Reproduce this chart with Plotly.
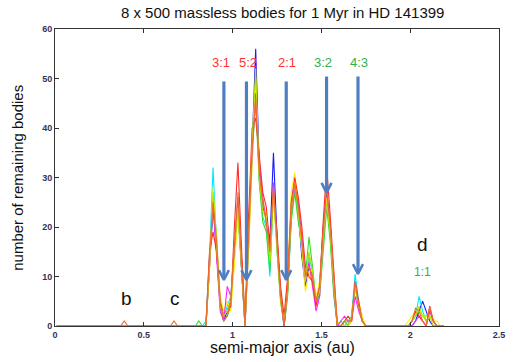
import numpy as np
import plotly.graph_objects as go

# bin centres (au)
x_grid = np.round(np.arange(0.01, 2.20, 0.02), 2)

# main resonance region 0.85 .. 1.77 au
main_start = 0.85
blue_main = [0, 12, 24, 15, 4, 1, 3, 5, 14, 24, 12, 0, 16, 38, 56, 32, 24, 22, 17, 35, 18, 6, 0, 7, 22, 29, 23, 14, 8, 12, 10, 5, 8, 20, 27, 20, 8, 0, 0, 1, 0, 2, 8, 4, 1, 0, 0]
cyan_main = [1, 14, 32, 16, 5, 2, 4, 6, 16, 25, 13, 1, 18, 34, 48, 30, 22, 20, 10, 27, 16, 6, 1, 8, 24, 28, 22, 16, 9, 14, 11, 4, 7, 17, 25, 18, 7, 0, 1, 0, 1, 2, 10.5, 5, 1, 0, 0]
green_main = [0, 13, 26, 18, 4, 1, 2, 4, 15, 23, 11, 0, 20, 36, 45, 29, 21, 19, 11, 28, 15, 5, 0, 6, 21, 27, 21, 17, 10, 18, 12, 5, 6, 16, 24, 17, 6, 0, 0, 1, 0, 1, 8, 4, 1, 0, 0]
yellow_main = [0, 11, 28, 17, 6, 3, 5, 3, 13, 22, 14, 1, 15, 33, 50, 31, 25, 23, 14, 26, 17, 7, 1, 9, 27, 31, 24, 15, 7, 11, 9, 6, 9, 19, 26, 19, 9, 1, 0, 0, 0, 1, 7, 5, 2, 0, 0]
magenta_main = [0, 12, 25, 14, 3, 1, 8, 6, 17, 26, 12, 0, 19, 35, 47, 33, 26, 21, 15, 29, 18, 6, 0, 8, 23, 28, 25, 18, 9, 13, 8, 3, 6, 18, 25, 21, 7, 0, 1, 2, 1, 1, 6, 3, 1, 0, 0]
red_main = [0, 15, 19, 15, 5, 2, 3, 4, 20, 33, 16, 1, 22, 40, 42, 34, 27, 24, 16, 27, 19, 8, 2, 10, 25, 30, 26, 20, 12, 10, 9, 4, 8, 21, 32, 22, 10, 0, 0, 1, 2, 1, 9, 5, 1, 0, 0]
lime_main = [0, 12, 27, 16, 4, 2, 3, 5, 16, 24, 12, 0, 17, 37, 52, 30, 23, 22, 13, 27, 16, 5, 1, 7, 23, 29, 23, 16, 9, 15, 11, 5, 7, 18, 25, 19, 8, 0, 0, 1, 0, 2, 8, 4, 1, 0, 0]
orange_main = [0, 14, 25, 17, 5, 1, 2, 5, 17, 27, 13, 0, 18, 36, 46, 31, 25, 21, 15, 28, 17, 6, 0, 8, 24, 29, 24, 17, 10, 12, 10, 5, 8, 19, 28, 20, 9, 0, 0, 1, 1, 1, 9, 4, 1, 0, 0]

# co-orbital region (planet d) 1.95 .. 2.19 au
d_start = 1.95
blue_d = [0, 0, 0, 0, 1, 3, 5, 3, 1, 0, 0, 0, 0]
cyan_d = [0, 0, 0, 1, 2, 6, 3, 1, 2, 1, 0, 0, 0]
green_d = [0, 0, 0, 1, 2, 3, 2, 2, 3, 1, 0, 0, 0]
yellow_d = [0, 0, 1, 2, 3, 3, 2, 2, 2, 1, 1, 0, 0]
magenta_d = [0, 0, 0, 0, 1, 2, 1, 0, 3, 1, 0, 0, 0]
red_d = [0, 0, 0, 1, 3, 2, 1, 0, 4, 1, 0, 0, 0]
lime_d = [0, 0, 0, 1, 2, 4, 2, 1, 2, 0, 0, 0, 0]
orange_d = [0, 0, 0, 1, 3.6, 3, 1, 0, 3.8, 1, 0, 0, 0]

# isolated single survivors: (series, position au, count)
singles = [("orange", 0.39, 1), ("orange", 0.67, 1), ("green", 0.81, 1)]

series_names = ["blue", "cyan", "green", "yellow", "magenta", "red", "lime", "orange"]
series_main = [blue_main, cyan_main, green_main, yellow_main, magenta_main, red_main, lime_main, orange_main]
series_d = [blue_d, cyan_d, green_d, yellow_d, magenta_d, red_d, lime_d, orange_d]
series_colors = ["#1a1aff", "#00e8ff", "#33dd22", "#ffee00", "#ff22ff", "#ff2a2a", "#b8e000", "#ee6a30"]

# resonances
res_labels = ["3:1", "5:2", "2:1", "3:2", "4:3"]
res_colors = ["#ff3030", "#ff3030", "#ff3030", "#2eb050", "#2eb050"]
res_label_x = [0.932, 1.085, 1.309, 1.511, 1.711]
res_label_y = [53.2, 53.2, 53.2, 53.2, 53.2]
arrow_x = [0.951, 1.078, 1.302, 1.529, 1.706]
arrow_top = [49.4, 49.4, 49.4, 50.4, 50.4]
arrow_tip = [9.3, 9.3, 9.3, 26.9, 10.5]

planet_labels = ["b", "c", "d"]
planet_x = [0.40, 0.678, 2.067]
planet_y = [5.6, 5.6, 16.4]

x_ticks = [0, 0.5, 1, 1.5, 2, 2.5]
y_ticks = [0, 10, 20, 30, 40, 50, 60]


def build(main, dvals, name):
    y = np.zeros(len(x_grid))
    i0 = int(round((main_start - x_grid[0]) / 0.02))
    y[i0:i0 + len(main)] = main
    j0 = int(round((d_start - x_grid[0]) / 0.02))
    y[j0:j0 + len(dvals)] = dvals
    for s, pos, cnt in singles:
        if s == name:
            y[int(round((pos - x_grid[0]) / 0.02))] = cnt
    return y


fig = go.Figure()
for name, m, d, c in zip(series_names, series_main, series_d, series_colors):
    fig.add_trace(go.Scatter(x=x_grid, y=build(m, d, name), mode="lines",
                             line=dict(color=c, width=1.1), hoverinfo="skip"))

arrow_color = "#4f7fc0"
hw, hh = 0.028, 2.0
for ax, top, tip in zip(arrow_x, arrow_top, arrow_tip):
    fig.add_trace(go.Scatter(x=[ax, ax], y=[top, tip + 0.6], mode="lines",
                             line=dict(color=arrow_color, width=3.2), hoverinfo="skip"))
    fig.add_trace(go.Scatter(x=[ax - hw, ax, ax + hw], y=[tip + hh, tip, tip + hh], mode="lines",
                             line=dict(color=arrow_color, width=2.6), hoverinfo="skip"))

for lab, c, lx, ly in zip(res_labels, res_colors, res_label_x, res_label_y):
    fig.add_annotation(x=lx, y=ly, text=lab, showarrow=False,
                       font=dict(family="Liberation Sans", size=13, color=c))
for lab, lx, ly in zip(planet_labels, planet_x, planet_y):
    fig.add_annotation(x=lx, y=ly, text=lab, showarrow=False,
                       font=dict(family="Liberation Sans", size=19, color="#111111"))
fig.add_annotation(x=2.067, y=10.9, text="1:1", showarrow=False,
                   font=dict(family="Liberation Sans", size=12, color="#2eb050"))

fig.add_annotation(xref="paper", yref="paper", x=0.512, y=-0.072, yanchor="middle",
                   text="semi-major axis (au)", showarrow=False,
                   font=dict(family="Liberation Sans", size=16, color="#111111"))
fig.add_annotation(xref="paper", yref="paper", x=-0.085, y=0.5, xanchor="center",
                   text="number of remaining bodies", showarrow=False, textangle=-90,
                   font=dict(family="Liberation Sans", size=15, color="#111111"))

tick_font = dict(family="Liberation Sans", size=9, color="#333355", weight="bold")
fig.update_layout(
    width=514, height=362,
    margin=dict(l=55, r=9, t=29, b=36),
    paper_bgcolor="white", plot_bgcolor="white",
    showlegend=False, hovermode=False,
    title=dict(text="8 x 500 massless bodies for 1 Myr in HD 141399", x=0.55, xanchor="center",
               y=0.965, yanchor="middle",
               font=dict(family="Liberation Sans", size=15, color="#111111")),
    xaxis=dict(range=[0, 2.5], tickvals=x_ticks, ticktext=[str(v) for v in x_ticks],
               showgrid=False, zeroline=False, showline=True, linecolor="#333333", linewidth=1,
               mirror="ticks", ticks="inside", ticklen=4, tickcolor="#333333", tickfont=tick_font),
    yaxis=dict(range=[0, 60], tickvals=y_ticks, showgrid=False, zeroline=False,
               showline=True, linecolor="#333333", linewidth=1, mirror=True,
               ticks="inside", ticklen=4, tickcolor="#333333", tickfont=tick_font),
)

fig.write_html("out.html")
